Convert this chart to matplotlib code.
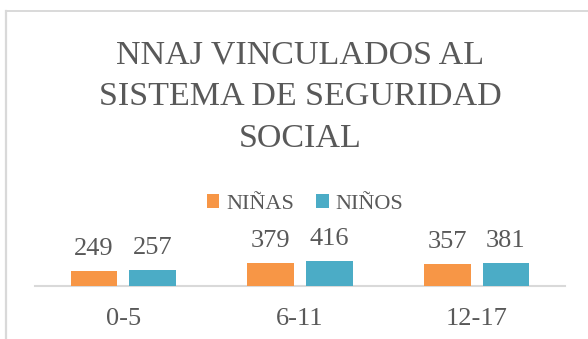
import matplotlib
matplotlib.use("Agg")
import matplotlib.pyplot as plt
from matplotlib.patches import Patch
from matplotlib.lines import Line2D

# Data
categories = ["0-5", "6-11", "12-17"]
ninas = [249, 379, 357]
ninos = [257, 416, 381]
series_names = ["NIÑAS", "NIÑOS"]
title = "NNAJ VINCULADOS AL\nSISTEMA DE SEGURIDAD\nSOCIAL"

# Style
W, H = 588, 339
TEXT = "#595959"
ORANGE = "#F79646"
TEAL = "#4BACC6"
GRID = "#D9D9D9"
FONT = ["Liberation Serif", "DejaVu Serif"]
plt.rcParams["font.family"] = FONT

fig = plt.figure(figsize=(W / 100, H / 100), dpi=100)


def fx(px):
    return px / W


def fy(py):
    return 1 - py / H


# Chart frame (top and left edges)
fig.add_artist(Line2D([fx(5.5), fx(588)], [fy(10.5), fy(10.5)],
                      color=GRID, lw=1.4, transform=fig.transFigure))
fig.add_artist(Line2D([fx(6), fx(6)], [fy(10.5), fy(339)],
                      color=GRID, lw=1.6, transform=fig.transFigure))

# Plot area
ymax = 1200
left, right, base, top = 35, 565, 285.5, 285.5 - ymax * 0.0593
ax = fig.add_axes([fx(left), fy(base), fx(right) - fx(left), fy(top) - fy(base)])
ax.set_xlim(-0.5, len(categories) - 0.5)
ax.set_ylim(0, ymax)

x = list(range(len(categories)))
bw = 0.264
off = 0.166
b1 = ax.bar([i - off for i in x], ninas, width=bw, color=ORANGE, zorder=2)
b2 = ax.bar([i + off for i in x], ninos, width=bw, color=TEAL, zorder=2)

for bars, vals in ((b1, ninas), (b2, ninos)):
    for rect, v in zip(bars, vals):
        ax.annotate(str(v), (rect.get_x() + rect.get_width() / 2, v),
                    xytext=(0, 11.5), textcoords="offset points",
                    ha="center", va="baseline", fontsize=19, color=TEXT)

for s in ("top", "left", "right"):
    ax.spines[s].set_visible(False)
ax.spines["bottom"].set_color(GRID)
ax.spines["bottom"].set_linewidth(1.5)
ax.spines["bottom"].set_zorder(1)
ax.set_yticks([])
ax.set_xticks(x)
ax.set_xticklabels(categories, fontsize=19, color=TEXT)
ax.tick_params(axis="x", length=0, pad=16)
ax.patch.set_alpha(0)

# Title
fig.text(fx(300), fy(97), title, ha="center", va="center",
         fontsize=24.5, color=TEXT, linespacing=1.5)

# Legend
handles = [Patch(facecolor=ORANGE, edgecolor="none"),
           Patch(facecolor=TEAL, edgecolor="none")]
fig.legend(handles, series_names, loc="center", bbox_to_anchor=(fx(305), fy(204)),
           ncol=2, frameon=False, fontsize=16, labelcolor=TEXT,
           handlelength=0.56, handleheight=0.56, handletextpad=0.3,
           columnspacing=1.0, borderpad=0, borderaxespad=0)

fig.savefig("out.png", dpi=100)
